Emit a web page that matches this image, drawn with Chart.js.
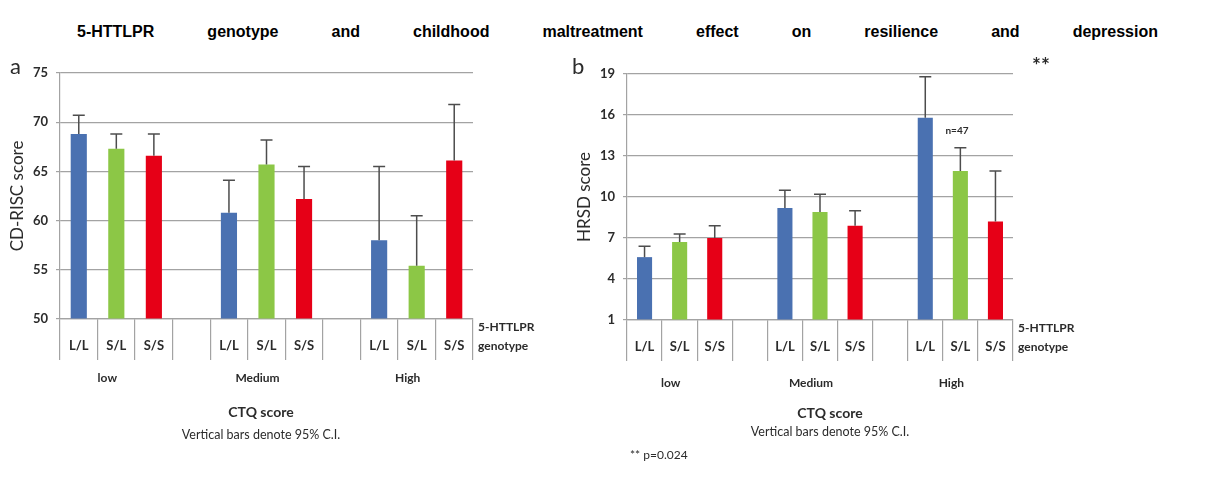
<!DOCTYPE html>
<html>
<head>
<meta charset="utf-8">
<script src="https://cdn.jsdelivr.net/npm/chart.js@4.4.1/dist/chart.umd.min.js"></script>
<style>
  body { margin: 0; background: #fff; width: 1225px; height: 481px; position: relative; overflow: hidden; }
  #title {
    position: absolute; left: 77px; top: 23px; width: 1081px;
    font: bold 16px "Liberation Sans", Arial, sans-serif; color: #000;
    text-align: justify; text-align-last: justify; white-space: nowrap;
  }
  #boxA { position: absolute; left: 0; top: 50px; width: 560px; height: 430px; }
  #boxB { position: absolute; left: 560px; top: 50px; width: 665px; height: 430px; }
</style>
</head>
<body>
<div id="title">5-HTTLPR genotype and childhood maltreatment effect on resilience and depression</div>
<div id="boxA"><canvas id="chartA"></canvas></div>
<div id="boxB"><canvas id="chartB"></canvas></div>
<script>
// categories (blank slots separate the CTQ groups)
const genotypes = ["L/L", "S/L", "S/S", "", "L/L", "S/L", "S/S", "", "L/L", "S/L", "S/S"];
const ctqGroups = ["low", "Medium", "High"];
const groupIndex = [1, 5, 9];

// panel a: CD-RISC means and upper 95% CI
const cdriscMeans = [68.8, 67.3, 66.6, null, 60.8, 65.7, 62.2, null, 58.0, 55.4, 66.1];
const cdriscUpper = [70.7, 68.8, 68.8, null, 64.1, 68.2, 65.5, null, 65.5, 60.5, 71.8];

// panel b: HRSD means and upper 95% CI
const hrsdMeans = [5.6, 6.7, 7.0, null, 9.2, 8.9, 7.9, null, 15.8, 11.9, 8.2];
const hrsdUpper = [6.4, 7.3, 7.9, null, 10.5, 10.2, 9.0, null, 18.8, 13.6, 11.9];

const BLUE = "#4a71b1";
const GREEN = "#8cc746";
const RED = "#e60017";
const barColors = [BLUE, GREEN, RED, "#fff", BLUE, GREEN, RED, "#fff", BLUE, GREEN, RED];

const FONT = "Lato, 'Open Sans', sans-serif";
const GRID = "#a3a3a3";
const TEXT = "#2b2b2b";

// error bars (upper half of the 95% CI)
const errorBars = {
  id: "errorBars",
  afterDatasetsDraw(chart, args, opts) {
    const ctx = chart.ctx;
    const meta = chart.getDatasetMeta(0);
    const y = chart.scales.y;
    ctx.save();
    ctx.strokeStyle = "#4d4d4d";
    ctx.lineWidth = 1.5;
    opts.upper.forEach((u, i) => {
      if (u == null) return;
      const bar = meta.data[i];
      const yTop = y.getPixelForValue(u);
      ctx.beginPath();
      ctx.moveTo(bar.x, bar.y);
      ctx.lineTo(bar.x, yTop);
      ctx.moveTo(bar.x - 6, yTop);
      ctx.lineTo(bar.x + 6, yTop);
      ctx.stroke();
    });
    ctx.restore();
  },
};

const annotations = {
  id: "annotations",
  afterDraw(chart, args, opts) {
    const ctx = chart.ctx;
    const area = chart.chartArea;
    const x = chart.scales.x;
    ctx.save();
    ctx.fillStyle = TEXT;
    ctx.textBaseline = "middle";

    // panel letter
    ctx.font = "22px " + FONT;
    ctx.textAlign = "left";
    ctx.fillText(opts.letter, opts.letterX, 17);

    // genotype label at the right of the axis
    ctx.font = "bold 12px " + FONT;
    ctx.fillText("5-HTTLPR", area.right + 5, area.bottom + 8);
    ctx.fillText("genotype", area.right + 5, area.bottom + 27);

    // CTQ group labels
    ctx.textAlign = "center";
    ctqGroups.forEach((g, k) => {
      ctx.fillText(g, x.getPixelForValue(groupIndex[k]) - 9, area.bottom + opts.groupDy);
    });

    ctx.font = "bold 14px " + FONT;
    ctx.fillText("CTQ score", opts.ctqX, area.bottom + 93);
    ctx.font = "12.5px " + FONT;
    ctx.fillText("Vertical bars denote 95% C.I.", opts.ctqX, area.bottom + opts.noteDy);

    (opts.extra || []).forEach(t => {
      ctx.font = t.font;
      ctx.textAlign = t.align || "center";
      ctx.fillText(t.text, t.x, t.y);
    });
    ctx.restore();
  },
};

function makeChart(id, means, upper, yMin, yMax, step, yTitle, titlePad, layoutPad, yWidth, xHeight, ann) {
  return new Chart(document.getElementById(id), {
    type: "bar",
    data: {
      labels: genotypes,
      datasets: [{
        data: means,
        base: yMin,
        backgroundColor: barColors,
        barPercentage: 0.43,
        categoryPercentage: 1.0,
      }],
    },
    options: {
      responsive: true,
      maintainAspectRatio: false,
      animation: false,
      layout: { padding: layoutPad },
      plugins: {
        legend: { display: false },
        tooltip: { enabled: false },
        errorBars: { upper: upper },
        annotations: ann,
      },
      scales: {
        x: {
          grid: {
            offset: true,
            drawOnChartArea: false,
            tickLength: 41,
            color: GRID,
            lineWidth: 1.2,
          },
          border: { color: GRID, width: 1.2 },
          ticks: {
            padding: -22,
            color: TEXT,
            font: { family: FONT, size: 13, weight: "bold" },
          },
          afterFit(scale) { scale.height = xHeight; },
        },
        y: {
          min: yMin,
          max: yMax,
          ticks: {
            stepSize: step,
            padding: 8,
            color: TEXT,
            font: { family: FONT, size: 13, weight: "bold" },
          },
          grid: { color: GRID, tickLength: 4, lineWidth: 1.2 },
          border: { color: GRID, width: 1.2 },
          title: {
            display: true,
            text: yTitle,
            color: TEXT,
            font: { family: FONT, size: 17 },
            padding: { top: titlePad, bottom: 0 },
          },
          afterFit(scale) { scale.width = yWidth; },
        },
      },
    },
    plugins: [errorBars, annotations],
  });
}

makeChart("chartA", cdriscMeans, cdriscUpper, 50, 75, 5, "CD-RISC score", 7,
  { top: 23, right: 87, left: 0, bottom: 0 }, 60, 161,
  { letter: "a", letterX: 10, groupDy: 59, noteDy: 116, ctqX: 261 });

makeChart("chartB", hrsdMeans, hrsdUpper, 1, 19, 3, "HRSD score", 14,
  { top: 24, right: 212, left: 0, bottom: 0 }, 67, 160,
  { letter: "b", letterX: 12, groupDy: 63, noteDy: 112, ctqX: 270,
    extra: [
      { text: "**", font: "bold 21px " + FONT, x: 481, y: 16 },
      { text: "n=47", font: "bold 10px " + FONT, x: 397, y: 81 },
      { text: "** p=0.024", font: "12px " + FONT, x: 70, y: 405, align: "left" },
    ] });
</script>
</body>
</html>
